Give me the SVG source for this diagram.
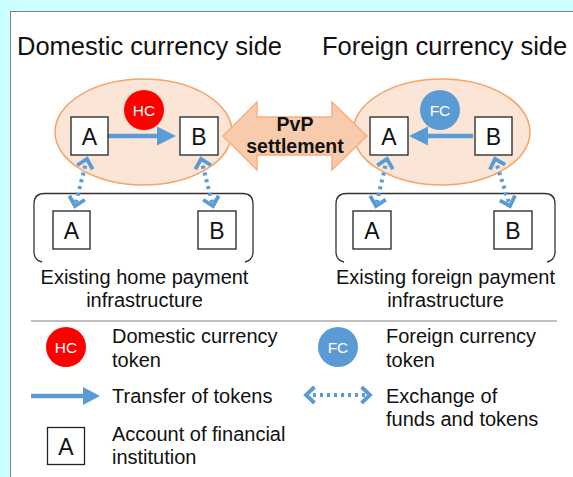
<svg xmlns="http://www.w3.org/2000/svg" width="573" height="477" viewBox="0 0 573 477">
<defs>
<style>
text{font-family:"Liberation Sans",Arial,sans-serif;fill:#111}
.title{font-size:25.5px}
.lbl{font-size:20px}
.box{fill:#fff;stroke:#222;stroke-width:1.3}
.boxt{font-size:23px;text-anchor:middle}
.ell{fill:#fbe5d6;stroke:#f4a46a;stroke-width:1.5}
.tok{font-size:15.5px;fill:#fff;text-anchor:middle}
.solid{stroke:#5b9bd5;stroke-width:4.5;fill:none}
.dot{stroke:#5b9bd5;stroke-width:4;fill:none;stroke-dasharray:3 4}
.infra{fill:none;stroke:#333;stroke-width:1.3}
.pvp{font-size:19.5px;font-weight:bold;text-anchor:middle}
</style>
<marker id="chev" markerUnits="userSpaceOnUse" viewBox="0 0 12 20" refX="10" refY="10" markerWidth="12" markerHeight="20" orient="auto-start-reverse" overflow="visible">
<path d="M1.5,2 L10,10 L1.5,18" fill="none" stroke="#5b9bd5" stroke-width="3.8"/>
</marker>
</defs>
<rect x="0" y="0" width="573" height="477" fill="#ccffff"/>
<rect x="10.5" y="11.5" width="570" height="470" fill="#fff" stroke="#808080" stroke-width="1"/>

<g id="titles">
<text class="title" x="17" y="55">Domestic currency side</text>
<text class="title" x="322" y="55">Foreign currency side</text>
</g>

<g id="domestic-ledger">
<ellipse class="ell" cx="143.5" cy="132" rx="88.5" ry="53"/>
</g>
<g id="foreign-ledger">
<ellipse class="ell" cx="441.5" cy="132" rx="88.5" ry="53"/>
</g>

<g id="home-infra">
<path class="infra" d="M42,262 Q34,260 34,252 L34,204 Q34,193.5 44.5,193.5 L242.5,193.5 Q253,193.5 253,204 L253,252 Q253,260 245,262"/>
<text class="lbl" x="144.5" y="284" text-anchor="middle">Existing home payment</text>
<text class="lbl" x="144.5" y="307" text-anchor="middle">infrastructure</text>
</g>
<g id="foreign-infra">
<path class="infra" d="M344,262 Q336,260 336,252 L336,204 Q336,193.5 346.5,193.5 L544.5,193.5 Q555,193.5 555,204 L555,252 Q555,260 547,262"/>
<text class="lbl" x="445.5" y="284" text-anchor="middle">Existing foreign payment</text>
<text class="lbl" x="445.5" y="307" text-anchor="middle">infrastructure</text>
</g>

<g id="connectors">
<line class="solid" x1="108" y1="136" x2="160" y2="136"/>
<polygon points="157,126.5 176,136 157,145.5" fill="#5b9bd5"/>
<line class="solid" x1="473" y1="136" x2="425" y2="136"/>
<polygon points="428,126.5 409,136 428,145.5" fill="#5b9bd5"/>
<line class="dot" x1="87" y1="159" x2="75" y2="206" marker-start="url(#chev)" marker-end="url(#chev)"/>
<line class="dot" x1="201" y1="159" x2="213" y2="206" marker-start="url(#chev)" marker-end="url(#chev)"/>
<line class="dot" x1="387" y1="159" x2="376" y2="206" marker-start="url(#chev)" marker-end="url(#chev)"/>
<line class="dot" x1="495" y1="159" x2="510" y2="206" marker-start="url(#chev)" marker-end="url(#chev)"/>
</g>

<g id="pvp">
<polygon points="223,136 257,102 257,117 332,117 332,102 367,136 332,170 332,155 257,155 257,170" fill="#f8cbad" stroke="#f4b183" stroke-width="1.5"/>
<text class="pvp" x="295" y="131">PvP</text>
<text class="pvp" x="295" y="153">settlement</text>
</g>

<g id="hc-token">
<circle cx="144" cy="110" r="20" fill="#ff0000"/>
<text class="tok" x="144" y="115.5">HC</text>
</g>
<g id="fc-token">
<circle cx="440" cy="110" r="20" fill="#5b9bd5"/>
<text class="tok" x="440" y="115.5">FC</text>
</g>

<g id="dom-A"><rect class="box" x="71" y="117" width="37" height="38"/><text class="boxt" x="89.5" y="144.5">A</text></g>
<g id="dom-B"><rect class="box" x="180" y="117" width="38" height="38"/><text class="boxt" x="199" y="144.5">B</text></g>
<g id="for-A"><rect class="box" x="370" y="117" width="38" height="38"/><text class="boxt" x="389" y="144.5">A</text></g>
<g id="for-B"><rect class="box" x="475" y="117" width="37" height="38"/><text class="boxt" x="493.5" y="144.5">B</text></g>

<g id="home-A"><rect class="box" x="53" y="211" width="37" height="38"/><text class="boxt" x="71.5" y="238.5">A</text></g>
<g id="home-B"><rect class="box" x="198" y="211" width="38" height="38"/><text class="boxt" x="217" y="238.5">B</text></g>
<g id="fin-A"><rect class="box" x="353" y="211" width="38" height="38"/><text class="boxt" x="372" y="238.5">A</text></g>
<g id="fin-B"><rect class="box" x="494" y="211" width="38" height="38"/><text class="boxt" x="513" y="238.5">B</text></g>

<g id="legend">
<line x1="31" y1="321" x2="557" y2="321" stroke="#808080" stroke-width="1"/>
<circle cx="66" cy="347" r="20" fill="#ff0000"/>
<text class="tok" x="66" y="352.5">HC</text>
<text class="lbl" x="112" y="343">Domestic currency</text>
<text class="lbl" x="112" y="366.5">token</text>
<circle cx="338" cy="347" r="20" fill="#5b9bd5"/>
<text class="tok" x="338" y="352.5">FC</text>
<text class="lbl" x="386" y="343">Foreign currency</text>
<text class="lbl" x="386" y="366.5">token</text>
<line class="solid" x1="31" y1="396" x2="86" y2="396"/>
<polygon points="83,387 100,396 83,405" fill="#5b9bd5"/>
<text class="lbl" x="112" y="403">Transfer of tokens</text>
<line class="dot" x1="306" y1="395" x2="370" y2="395" marker-start="url(#chev)" marker-end="url(#chev)"/>
<text class="lbl" x="386" y="403">Exchange of</text>
<text class="lbl" x="386" y="426">funds and tokens</text>
<rect class="box" x="47.5" y="427.5" width="37" height="37"/>
<text class="boxt" x="66" y="454.5">A</text>
<text class="lbl" x="112" y="441">Account of financial</text>
<text class="lbl" x="112" y="464">institution</text>
</g>
</svg>
